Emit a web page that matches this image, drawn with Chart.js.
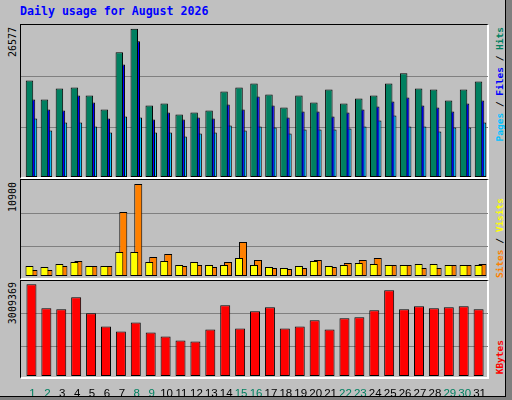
<!DOCTYPE html>
<html><head><meta charset="utf-8">
<script src="https://cdn.jsdelivr.net/npm/chart.js@4/dist/chart.umd.min.js"></script>
<style>
body{margin:0;width:512px;height:400px;background:#808080;position:relative;overflow:hidden;font-family:"DejaVu Sans Mono",monospace}
#outer{position:absolute;left:0;top:0;width:505px;height:396px;background:#C0C0C0;border-right:1px solid #000;border-bottom:1px solid #000}
.panel{position:absolute;left:20px;width:469px;border-top:1px solid #000;border-left:1px solid #000;border-right:2px solid #fff;border-bottom:2px solid #fff;box-sizing:border-box}
.grid{position:absolute;left:21px;width:467px;height:1px;background:#808080}
canvas{position:absolute}
.lab{position:absolute;writing-mode:vertical-rl;transform:rotate(180deg);white-space:nowrap}
.yl{font-size:10px;color:#000;left:7px}
.rl{font-size:9.5px;font-weight:bold;left:494px}
#title{position:absolute;left:20px;top:4px;font-size:11.6px;font-weight:bold;color:#0000FF}
</style></head><body>
<div id="outer"></div>
<div id="title">Daily usage for August 2026</div>
<div class="panel" style="top:24px;height:155px"></div>
<div class="panel" style="top:179px;height:101px"></div>
<div class="panel" style="top:280px;height:99px"></div>
<div class="grid" style="top:76px"></div><div class="grid" style="top:127px"></div>
<div class="grid" style="top:213px"></div><div class="grid" style="top:246px"></div>
<div class="grid" style="top:313px"></div><div class="grid" style="top:346px"></div>
<div class="lab yl" style="top:27px">26577</div>
<div class="lab yl" style="top:182px">10900</div>
<div class="lab yl" style="top:282px">3009369</div>
<div class="lab rl" style="top:27px"><span style="color:#00C0FF">Pages</span> / <span style="color:#0000FF">Files</span> / <span style="color:#008060">Hits</span></div>
<div class="lab rl" style="top:198px"><span style="color:#FF8000">Sites</span> / <span style="color:#FFFF00">Visits</span></div>
<div class="lab rl" style="top:340px;color:#FF0000">KBytes</div>
<canvas id="c1" width="464" height="151" style="left:25px;top:26px"></canvas>
<canvas id="c2" width="464" height="93" style="left:25px;top:183px"></canvas>
<canvas id="c3" width="464" height="114" style="left:25px;top:282px"></canvas>
<script>
const days=['1','2','3','4','5','6','7','8','9','10','11','12','13','14','15','16','17','18','19','20','21','22','23','24','25','26','27','28','29','30','31'];
const weekend=['1','2','8','9','15','16','22','23','29','30'];
const hits=[17000,13650,15590,15770,14350,11890,21940,26100,12590,12940,11000,11360,11710,15060,15770,16470,14530,12240,14350,13120,15410,12940,13830,14350,16470,18240,15590,15410,13470,15410,16820];
const files=[13650,11890,11710,14350,13120,10300,19820,23880,10120,11360,10120,10480,10300,12770,11890,14180,12590,10480,11530,11530,10650,11360,11890,12420,13300,14000,12590,12240,11530,12940,13470];
const pages=[10300,8180,9590,9590,8890,7830,10650,10480,7830,7830,7120,7650,7830,9060,8180,8890,8710,7650,8360,8360,8360,8540,8890,9950,10830,8890,8890,8010,8710,8710,9590];
const visits=[1170,1050,1410,1640,1170,1170,2810,2810,1640,1760,1290,1640,1290,1290,2110,1290,1050,940,1170,1760,1170,1290,1520,1410,1290,1290,1410,1410,1290,1290,1290];
const sites=[700,700,1170,1760,1170,1170,7500,10780,2230,2580,1170,1290,1050,1640,3990,1880,940,820,940,1880,1050,1520,1880,2110,1290,1290,940,940,1290,1290,1410];
const kbytes=[2939600,2167200,2135000,2521200,2006200,1587800,1426900,1716500,1394700,1266000,1137200,1105000,1491200,2263700,1523400,2070600,2199300,1523400,1587800,1780900,1491200,1845300,1877500,2102800,2746500,2135000,2231500,2167200,2199300,2231500,2135000];
const maxTop=26577, maxMid=10900, maxBot=3009369;

const overlap={id:'overlap',afterDatasetsUpdate(chart,args,opts){
  const n=chart.data.datasets.length;
  chart.data.datasets.forEach((d,i)=>{
    chart.getDatasetMeta(i).data.forEach((el,j)=>{
      const cx=chart.scales.x.getPixelForValue(j)-1;
      el.x=cx+(i-(n-1)/2)*opts.step; el.width=opts.w;
    });
  });
}};
function mk(id,sets,max,step,w,showX){
  const x={display:showX,grid:{display:false},border:{display:false},
    ticks:{padding:3,maxRotation:0,autoSkip:false,font:{family:'Liberation Sans',size:11.5},
      color:c=>weekend.includes(days[c.index])?'#008060':'#000'}};
  if(showX) x.afterFit=s=>{s.height=20;};
  return new Chart(document.getElementById(id),{type:'bar',plugins:[overlap],
    data:{labels:days,datasets:sets.map(s=>({data:s[0],backgroundColor:s[1],borderColor:'#000',borderWidth:1,borderSkipped:false,grouped:false}))},
    options:{responsive:false,animation:false,devicePixelRatio:1,layout:{padding:0},
      plugins:{legend:{display:false},tooltip:{enabled:false},overlap:{step:step,w:w}},
      scales:{y:{display:false,min:0,max:max},x:x}}});
}
mk('c1',[[hits,'#008060'],[files,'#0000FF'],[pages,'#00C0FF']],maxTop,2,7.5,false);
mk('c2',[[visits,'#FFFF00'],[sites,'#FF8000']],maxMid,4,8,false);
mk('c3',[[kbytes,'#FF0000']],maxBot,0,10,true);
</script></body></html>
